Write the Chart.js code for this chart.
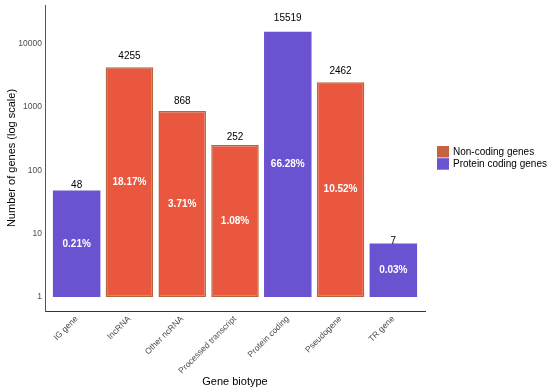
<!DOCTYPE html>
<html><head><meta charset="utf-8">
<script src="https://cdn.jsdelivr.net/npm/chart.js@4/dist/chart.umd.min.js"></script>
<style>html,body{margin:0;padding:0;background:#fff}#wrap{width:550px;height:392px}</style>
</head><body><div id="wrap"><canvas id="c" width="550" height="392"></canvas></div>
<script>
const categories = ["IG gene","lncRNA","Other ncRNA","Processed transcript","Protein coding","Pseudogene","TR gene"];
const geneCounts = [48,4255,868,252,15519,2462,7];
const geneGroup = ["Protein coding genes","Non-coding genes","Non-coding genes","Non-coding genes","Protein coding genes","Non-coding genes","Protein coding genes"];
const percentLabels = ["0.21%","18.17%","3.71%","1.08%","66.28%","10.52%","0.03%"];
const yTickValues = [1,10,100,1000,10000];
const legendLabels = ["Non-coding genes","Protein coding genes"];

const FONT = "'Liberation Sans', Arial, sans-serif";
const groupStyle = {
  "Non-coding genes": {fill:"#E9573F", border:"#B4663C", key:"#C5623F"},
  "Protein coding genes": {fill:"#6A52D0", border:"#6A52D0", key:"#6A52D0"}
};

const datasets = legendLabels.map(g => ({
  label: g,
  data: categories.map((c,i)=>({x:i, y:[1, geneCounts[i]], g:geneGroup[i]})).filter(d=>d.g===g),
  backgroundColor: groupStyle[g].fill,
  borderColor: groupStyle[g].border,
  borderWidth: g==="Non-coding genes" ? 1.5 : 0,
  borderSkipped: false,
  barPercentage: 0.9,
  categoryPercentage: 1,
  grouped: false
}));

const labelPlugin = {
  id: 'barLabels',
  afterDatasetsDraw(chart) {
    const ctx = chart.ctx, xs = chart.scales.x, ys = chart.scales.y;
    ctx.save();
    ctx.textAlign = 'center';
    ctx.textBaseline = 'middle';
    geneCounts.forEach((v,i)=>{
      const x = xs.getPixelForValue(i);
      ctx.fillStyle = '#000';
      ctx.font = "10px " + FONT;
      ctx.fillText(String(v), x, ys.getPixelForValue(Math.pow(v,1.05)));
      ctx.fillStyle = '#fff';
      ctx.font = "bold 10px " + FONT;
      ctx.fillText(percentLabels[i], x, ys.getPixelForValue(Math.sqrt(v)));
    });
    // legend
    const a = chart.chartArea;
    const kx = a.right + 12, cy = (a.top + a.bottom)/2;
    legendLabels.forEach((g,j)=>{
      const top = cy - 12 + j*12.2;
      ctx.fillStyle = groupStyle[g].key;
      ctx.fillRect(kx, top, 12, 11.5);
      ctx.fillStyle = '#000';
      ctx.font = "10px " + FONT;
      ctx.textAlign = 'left';
      ctx.fillText(g, kx + 16, top + 6);
    });
    ctx.restore();
  }
};

new Chart(document.getElementById('c'), {
  type: 'bar',
  data: { datasets },
  options: {
    responsive: false,
    animation: false,
    devicePixelRatio: 1,
    layout: { padding: { left: 0, right: 125, top: 5, bottom: 0 } },
    plugins: { legend: { display: false }, tooltip: { enabled: false } },
    scales: {
      x: {
        type: 'linear', min: -0.6, max: 6.6, offset: false,
        afterBuildTicks: ax => { ax.ticks = categories.map((c,i)=>({value:i})); },
        afterFit: ax => { ax.height = 81; ax.paddingLeft = 0; ax.paddingRight = 0; },
        grid: { display: false, drawTicks: false, offset: false },
        border: { display: true, color: '#333', width: 1 },
        ticks: {
          autoSkip: false, minRotation: 45, maxRotation: 45, padding: 3,
          color: '#4d4d4d', font: { family: FONT, size: 8.5 },
          callback: v => categories[v]
        },
        title: { display: true, text: 'Gene biotype', color: '#000',
          font: { family: FONT, size: 11 }, padding: { top: 0, bottom: 3 } }
      },
      y: {
        type: 'logarithmic', min: 0.63, max: 41000,
        afterBuildTicks: ax => { ax.ticks = yTickValues.map(v=>({value:v})); },
        afterFit: ax => { ax.width = 45; ax.paddingTop = 0; ax.paddingBottom = 0; },
        grid: { display: false, drawTicks: false },
        border: { display: true, color: '#555', width: 1 },
        ticks: { padding: 3, color: '#4d4d4d', font: { family: FONT, size: 8.5 },
          callback: v => String(v) },
        title: { display: true, text: 'Number of genes (log scale)', color: '#000',
          font: { family: FONT, size: 11 }, padding: { top: 5, bottom: 0 } }
      }
    }
  },
  plugins: [labelPlugin]
});
</script></body></html>
